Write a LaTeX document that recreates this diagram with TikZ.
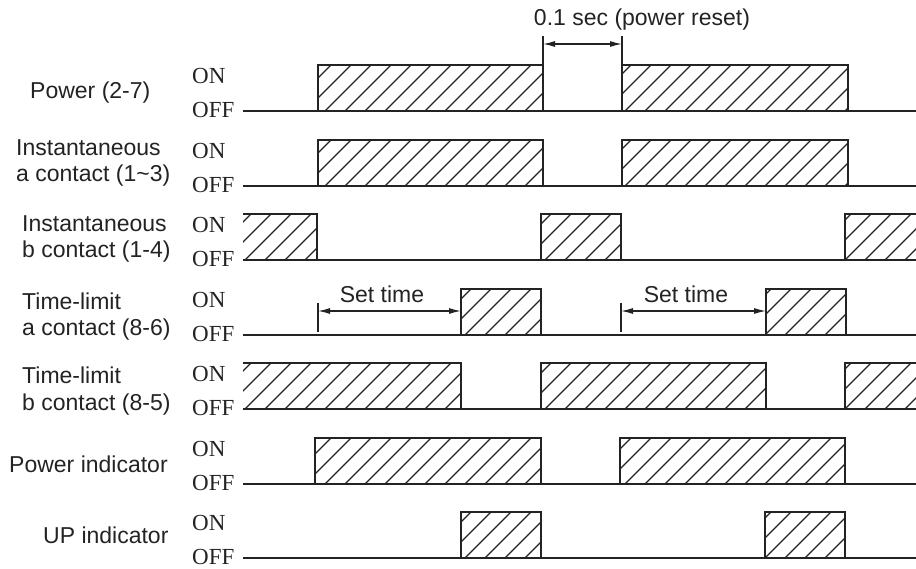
\documentclass[tikz,border=0pt]{standalone}
\usepackage{fontspec}
\setmainfont{Liberation Sans}
\newfontfamily\levelfont{Liberation Serif}
\usetikzlibrary{arrows.meta}
\definecolor{cink}{RGB}{35,35,35}
\tikzset{
  sig/.style={line width=2pt, color=cink},
  edge/.style={line width=1.8pt, color=cink},
  hatchline/.style={line width=1.3pt, color=cink},
  tick/.style={line width=1.5pt, color=cink},
  dim/.style={{Latex[length=12pt,width=6pt]}-{Latex[length=12pt,width=6pt]},
              line width=1.3pt, color=cink},
  lbl/.style={font=\fontsize{23}{26.5}\selectfont, align=left,
              inner sep=0pt, anchor=base west, text=cink},
  lvl/.style={font=\levelfont\fontsize{23}{23}\selectfont,
              inner sep=0pt, anchor=west, text=cink},
  txt/.style={font=\fontsize{23}{27}\selectfont, inner sep=0pt, text=cink},
}
% hatching of one ON interval: x from #1 to #2, OFF level at #3
\newcommand{\hatch}[3]{%
  \begin{scope}
    \clip (#1,#3) rectangle (#2,#3-46);
    \foreach \k in {185,205,...,905}
      \draw[hatchline] (\k,#3) -- ++(46,-46);
  \end{scope}}
\newcommand{\pulse}[3]{%
  \hatch{#1}{#2}{#3}
  \draw[edge] (#1,#3) -- (#1,#3-46) -- (#2,#3-46) -- (#2,#3);}

\begin{document}
\begin{tikzpicture}[x=1pt, y=-1pt]
  \useasboundingbox (0,0) rectangle (916,569);

  % ── Row labels ─────────────────────────────────────────────────────────────
  \node[lbl] (lpow)   at (30, 99)  {Power (2-7)};
  \node[lbl] (linsa)  at (16, 182) {Instantaneous\\a contact (1\char`\~3)};
  \node[lbl] (linsb)  at (22, 258) {Instantaneous\\b contact (1-4)};
  \node[lbl] (ltla)   at (22, 336) {Time-limit\\a contact (8-6)};
  \node[lbl] (ltlb)   at (22, 410) {Time-limit\\b contact (8-5)};
  \node[lbl] (lpind)  at (9, 472)  {Power indicator};
  \node[lbl] (lupind) at (43, 543) {UP indicator};

  % ── Levels and OFF lines ───────────────────────────────────────────────────
  \foreach \y [count=\i] in {111,186,260,335,409,484,558} {
    \node[lvl] (on\i)  at (192,\y-35) {ON};
    \node[lvl] (off\i) at (192,\y-1)  {OFF};
    \draw[sig] (243,\y) -- (916,\y);
  }

  % ── ON intervals ───────────────────────────────────────────────────────────
  \pulse{318}{543}{111} \pulse{622}{848}{111}
  \pulse{318}{543}{186} \pulse{622}{848}{186}
  \hatch{243}{317}{260}
  \draw[edge] (243,214) -- (317,214) -- (317,260);
  \pulse{541}{621}{260}
  \hatch{845}{916}{260}
  \draw[edge] (845,260) -- (845,214) -- (916,214);
  \pulse{461}{541}{335} \pulse{766}{846}{335}
  \hatch{243}{461}{409}
  \draw[edge] (243,363) -- (461,363) -- (461,409);
  \pulse{541}{766}{409}
  \hatch{845}{916}{409}
  \draw[edge] (845,409) -- (845,363) -- (916,363);
  \pulse{315}{541}{484} \pulse{620}{845}{484}
  \pulse{461}{541}{558} \pulse{765}{845}{558}

  % ── Power reset ────────────────────────────────────────────────────────────
  \node[txt] (reset) at (642,20) {0.1 sec (power reset)};
  \draw[tick] (543,36) -- (543,65);
  \draw[tick] (622,36) -- (622,65);
  \coordinate (rsa) at (543,44);
  \coordinate (rsb) at (622,44);
  \draw[dim] (rsa) -- (rsb);

  % ── Set time ───────────────────────────────────────────────────────────────
  \node[txt] (seta) at (382,294) {Set time};
  \node[txt] (setb) at (686,294) {Set time};
  \draw[tick] (318,303) -- (318,332);
  \draw[tick] (621,303) -- (621,332);
  \coordinate (sta1) at (318,311);
  \coordinate (sta2) at (461,311);
  \coordinate (stb1) at (621,311);
  \coordinate (stb2) at (766,311);
  \draw[dim] (sta1) -- (sta2);
  \draw[dim] (stb1) -- (stb2);
\end{tikzpicture}
\end{document}
